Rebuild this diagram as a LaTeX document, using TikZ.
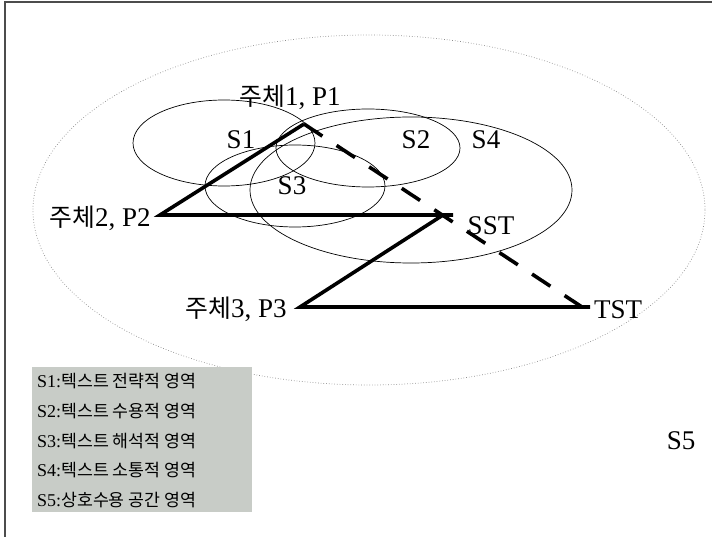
\documentclass[tikz,border=0pt]{standalone}
\usepackage{fontspec}
\setmainfont{Liberation Serif}
\newfontfamily\kr[Scale=0.92]{Noto Sans CJK KR}
\newfontfamily\krl[Scale=0.96]{Noto Sans CJK KR}
\definecolor{legendgray}{RGB}{200,204,199}
\tikzset{
  region/.style={draw=black, line width=0.7pt},
  bigline/.style={line width=3.6pt, line cap=butt},
  dashline/.style={line width=3.6pt, dash pattern=on 22pt off 17pt},
  lbl/.style={font=\fontsize{27}{30}\selectfont, inner sep=0pt},
  legtext/.style={font=\fontsize{18}{21}\selectfont, inner sep=0pt, anchor=west}
}
\begin{document}
\begin{tikzpicture}[x=1pt,y=-1pt]
\useasboundingbox (0,0) rectangle (712,537);
% frame (left and top only)
\draw[line width=1.2pt, black!70] (5,537) -- (5,2) -- (712,2);
% S5 big dotted ellipse
\draw[dotted, black!45, line width=0.7pt] (369,210) ellipse [x radius=336, y radius=175];
% region ellipses
\draw[region] (224,143) ellipse [x radius=91, y radius=43];
\draw[region] (368,148) ellipse [x radius=92, y radius=39];
\draw[region] (411,190) ellipse [x radius=161, y radius=73];
\draw[region] (295,186) ellipse [x radius=90, y radius=41];
% triangle vertices
\coordinate (p1) at (304,124);
\coordinate (p2) at (160,215);
\coordinate (sst) at (443,215);
\coordinate (sstend) at (453,215);
\coordinate (p3) at (300,307);
\coordinate (tst) at (590,307);
\coordinate (tstd) at (582,307);
% thick lines
\draw[bigline, line join=miter] (sstend) -- (p2) -- (p1);
\draw[bigline, line join=miter] (sst) -- (p3) -- (tst);
\draw[dashline] (p1) -- (tstd);
% labels
\node[lbl] (lp1) at (290,97) {{\kr 주체}1, P1};
\node[lbl] (lp2) at (100,218) {{\kr 주체}2, P2};
\node[lbl] (lp3) at (236,309) {{\kr 주체}3, P3};
\node[lbl] (lsst) at (491,226) {SST};
\node[lbl] (ltst) at (618,310) {TST};
\node[lbl] (ls1) at (241,140) {S1};
\node[lbl] (ls2) at (416,140) {S2};
\node[lbl] (ls4) at (486,140) {S4};
\node[lbl] (ls3) at (292,186) {S3};
\node[lbl] (ls5) at (681,441) {S5};
% legend
\node[fill=legendgray, minimum width=220pt, minimum height=145pt, inner sep=0pt] (legend) at (142,439.5) {};
\node[legtext] (l1) at (37,381) {S1:{\krl 텍스트 전략적 영역}};
\node[legtext] (l2) at (37,411) {S2:{\krl 텍스트 수용적 영역}};
\node[legtext] (l3) at (37,441) {S3:{\krl 텍스트 해석적 영역}};
\node[legtext] (l4) at (37,470) {S4:{\krl 텍스트 소통적 영역}};
\node[legtext] (l5) at (37,500) {S5:{\krl 상호수용 공간 영역}};
\end{tikzpicture}
\end{document}
